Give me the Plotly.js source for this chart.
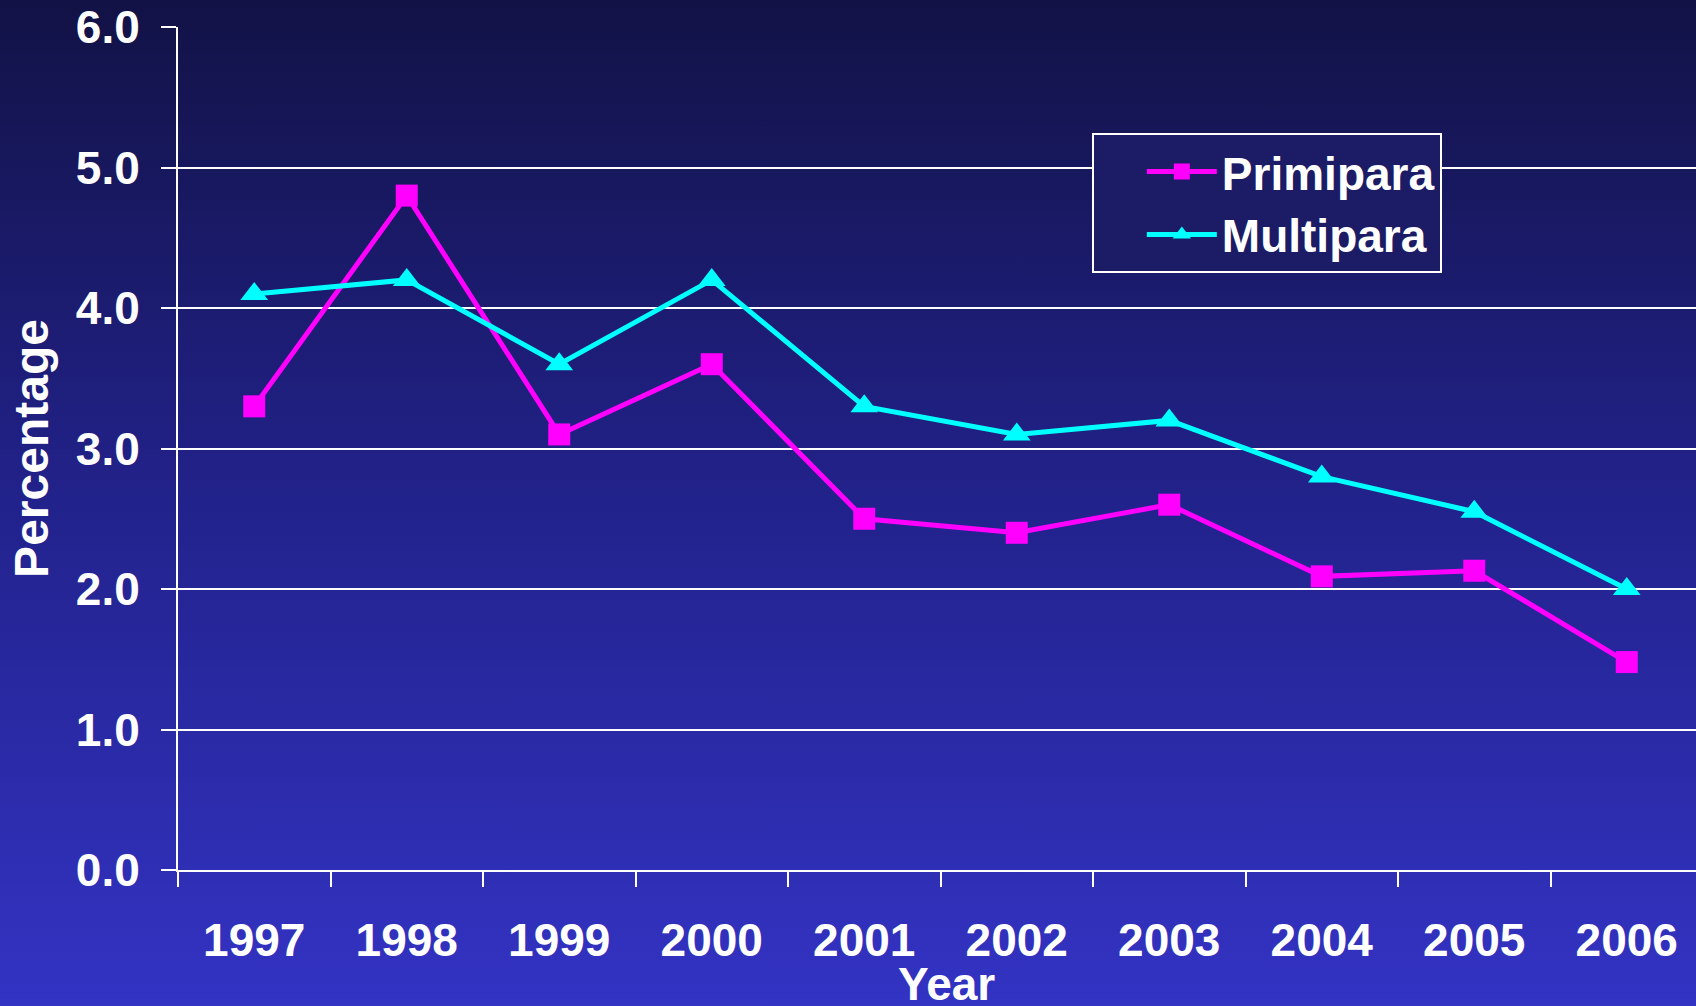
<!DOCTYPE html>
<html>
<head>
<meta charset="utf-8">
<script src="https://cdn.plot.ly/plotly-3.0.1.min.js"></script>
<style>
  html, body { margin: 0; padding: 0; }
  body {
    width: 1696px; height: 1006px; overflow: hidden;
    background: linear-gradient(to bottom, #121246 0%, #22228c 50%, #3333c4 100%);
  }
</style>
</head>
<body>
<div id="myPlot" style="width:1696px;height:1006px;"></div>
<script>
// years on the x axis and the two series (percent)
const years = ['1997', '1998', '1999', '2000', '2001', '2002', '2003', '2004', '2005', '2006'];
const primipara = [3.3, 4.8, 3.1, 3.6, 2.5, 2.4, 2.6, 2.09, 2.13, 1.48];
const multipara = [4.1, 4.2, 3.6, 4.2, 3.3, 3.1, 3.2, 2.8, 2.55, 2.0];

const boldFont = {family: '"Liberation Sans", Arial, sans-serif', size: 46, color: '#ffffff', weight: 'bold'};

var trace0 = {
    x: years,
    y: primipara,
    name: 'Primipara',
    type: 'scatter',
    mode: 'lines+markers',
    line: {color: '#ff00ff', width: 5},
    marker: {symbol: 'square', size: 22, color: '#ff00ff'}
};

var trace1 = {
    x: years,
    y: multipara,
    name: 'Multipara',
    type: 'scatter',
    mode: 'lines+markers',
    line: {color: '#00ffff', width: 5},
    marker: {symbol: 'triangle-up', size: 24, color: '#00ffff'}
};

var data = [trace0, trace1];

const layout = {
    width: 1696,
    height: 1006,
    paper_bgcolor: 'rgba(0,0,0,0)',
    plot_bgcolor: 'rgba(0,0,0,0)',
    font: boldFont,
    margin: {l: 178, r: 0, t: 27, b: 136, pad: 0},
    xaxis: {
        type: 'category',
        range: [-0.5, 9.454],
        tickson: 'boundaries',
        ticks: 'outside',
        ticklen: 15,
        tickwidth: 2,
        tickcolor: '#ffffff',
        showline: true,
        linecolor: '#ffffff',
        linewidth: 2,
        showgrid: false,
        tickfont: boldFont,
        ticklabelstandoff: 29,
        automargin: false
    },
    yaxis: {
        range: [0, 6],
        tick0: 0,
        dtick: 1,
        tickformat: '.1f',
        ticks: 'outside',
        ticklen: 15,
        tickwidth: 2,
        tickcolor: '#ffffff',
        showline: true,
        linecolor: '#ffffff',
        linewidth: 2,
        showgrid: true,
        gridcolor: '#ffffff',
        gridwidth: 1.5,
        zeroline: false,
        tickfont: boldFont,
        ticklabelstandoff: 12,
        title: {text: 'Percentage', font: {...boldFont, size: 48}, standoff: 12},
        automargin: false
    },
    // x axis title sits half cut off at the bottom edge, so place it by hand
    annotations: [{
        text: 'Year',
        xref: 'paper', yref: 'paper',
        x: 0.506, y: -0.102,
        xanchor: 'center', yanchor: 'top',
        showarrow: false,
        font: boldFont
    }],
    legend: {
        x: 0.602,
        y: 0.874,
        xanchor: 'left',
        yanchor: 'top',
        bgcolor: '#1b1b66',
        bordercolor: '#ffffff',
        borderwidth: 2,
        font: boldFont,
        indentation: 48,
        itemwidth: 70,
        tracegroupgap: 0
    },
    showlegend: true
};

Plotly.newPlot(document.getElementById('myPlot'), data, layout, {displayModeBar: false});
</script>
</body>
</html>
